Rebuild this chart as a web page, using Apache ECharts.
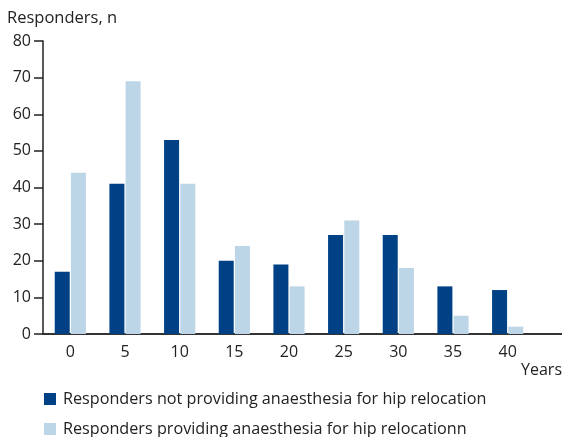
<!DOCTYPE html>
<html><head><meta charset="utf-8">
<script src="https://cdn.jsdelivr.net/npm/echarts@6/dist/echarts.min.js"></script>
<style>html,body{margin:0;padding:0;background:#fff}#c{width:562px;height:437px}</style>
</head><body><div id="c"></div>
<script>
const categories = ['0','5','10','15','20','25','30','35','40'];
const notProviding = [17, 41, 53, 20, 19, 27, 27, 13, 12];
const providing = [44, 69, 41, 24, 13, 31, 18, 5, 2];
const yTicks = {min: 0, max: 80, interval: 10};
const seriesNames = ['Responders not providing anaesthesia for hip relocation', 'Responders providing anaesthesia for hip relocationn'];
const FONT = 'Open Sans';
const chart = echarts.init(document.getElementById('c'), null, {renderer: 'canvas'});
chart.setOption({
  animation: false,
  textStyle: {fontFamily: FONT, color: '#222'},
  grid: [
    {left: 43, right: 27, top: 41, bottom: 103},
    {left: 43, right: 0, top: 41, bottom: 103}
  ],
  xAxis: [
    {type: 'category', gridIndex: 0, data: categories,
     axisLine: {show: true, lineStyle: {color: '#333', width: 2}},
     axisTick: {show: false},
     axisLabel: {fontSize: 16, color: '#222', margin: 10, fontFamily: FONT}},
    {type: 'value', gridIndex: 1, min: 0, max: 1,
     axisLine: {show: true, onZero: false, lineStyle: {color: '#333', width: 2}},
     axisTick: {show: false}, axisLabel: {show: false}, splitLine: {show: false}}
  ],
  yAxis: [
    {type: 'value', gridIndex: 0, min: yTicks.min, max: yTicks.max, interval: yTicks.interval,
     name: 'Responders, n', nameLocation: 'end', nameGap: 14,
     nameTextStyle: {fontSize: 16.5, color: '#222', align: 'left', padding: [0, 0, 0, -36], fontFamily: FONT},
     axisLine: {show: true, lineStyle: {color: '#222', width: 1.5}},
     axisTick: {show: true, inside: false, length: 9, lineStyle: {color: '#222', width: 1.5}},
     axisLabel: {fontSize: 16, color: '#222', margin: 12, fontFamily: FONT},
     splitLine: {show: false}},
    {type: 'value', gridIndex: 1, show: false}
  ],
  legend: {
    orient: 'vertical', left: 44, top: 388, height: 60, padding: 0, itemWidth: 12, itemHeight: 12, itemGap: 8,
    icon: 'rect',
    textStyle: {fontSize: 16.2, color: '#222', fontFamily: FONT, padding: [0,0,0,2], lineHeight: 22},
    data: seriesNames
  },
  graphic: [{type: 'text', right: 0, top: 362, style: {text: 'Years', fontSize: 16, fill: '#222', fontFamily: FONT}}],
  series: [
    {name: seriesNames[0], type: 'bar', xAxisIndex: 0, yAxisIndex: 0, data: notProviding,
     barWidth: 15, barGap: '8%', itemStyle: {color: '#004185'}},
    {name: seriesNames[1], type: 'bar', xAxisIndex: 0, yAxisIndex: 0, data: providing,
     barWidth: 15, barGap: '8%', itemStyle: {color: '#bdd6e7'}}
  ]
});
</script></body></html>
